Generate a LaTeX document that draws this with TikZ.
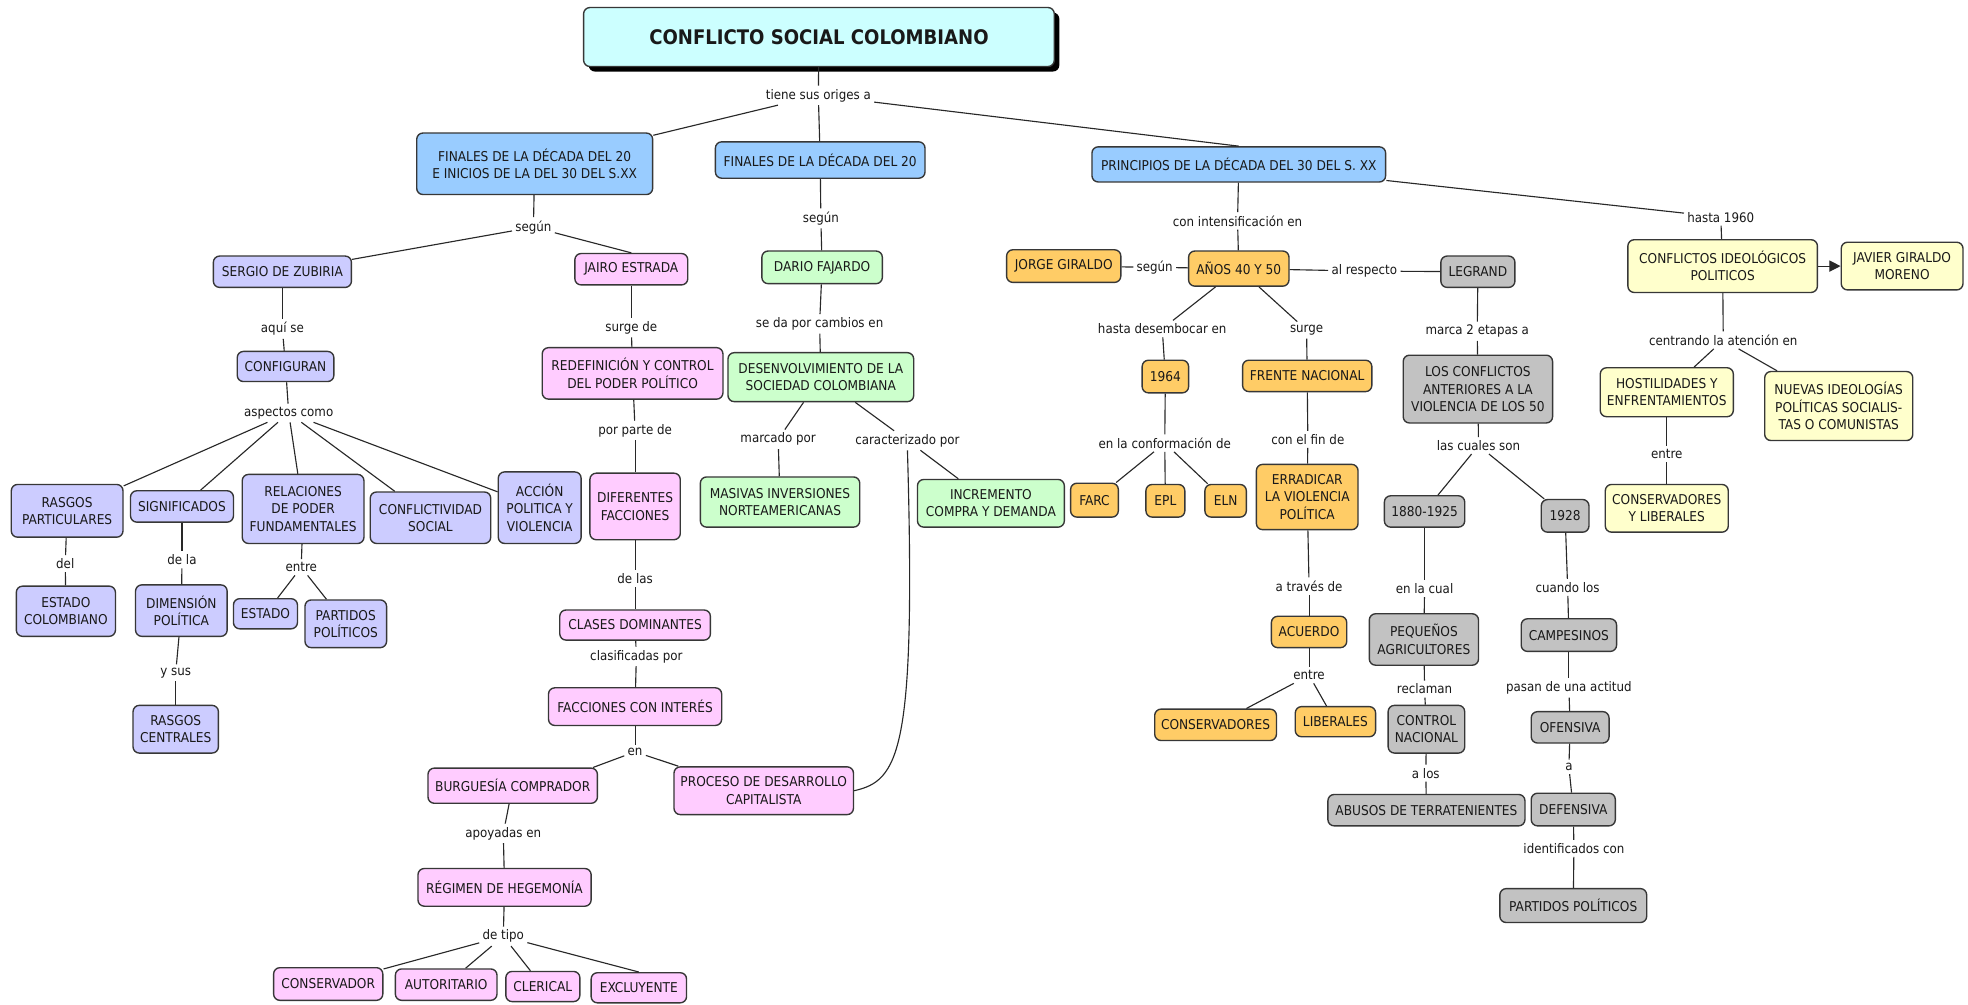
\documentclass[tikz,border=0pt]{standalone}
\usepackage{fontspec}
\setmainfont{DejaVu Sans Condensed}
\usetikzlibrary{arrows.meta,shadows}
\definecolor{cblue}{RGB}{153,204,255}
\definecolor{clav}{RGB}{204,204,255}
\definecolor{cpink}{RGB}{255,204,255}
\definecolor{cgreen}{RGB}{204,255,204}
\definecolor{corange}{RGB}{255,204,102}
\definecolor{cgray}{RGB}{194,194,194}
\definecolor{cyel}{RGB}{255,255,204}
\definecolor{ccyan}{RGB}{204,255,255}
\definecolor{cborder}{RGB}{55,55,55}
\definecolor{cline}{RGB}{40,40,40}
\definecolor{ctext}{RGB}{25,25,25}
\newcommand\cbox[7]{\node[box,fill=#2,minimum width={#5-#3},minimum height={#6-#4}] (#1) at ({(#3+#5)/2},{(#4+#6)/2}) {#7};}
\newcommand\clab[4]{\node[lbl] (#1) at (#2,#3) {#4};}
\begin{document}
\begin{tikzpicture}[x=1pt,y=-1pt,
  box/.style={draw=cborder,line width=1.1pt,rounded corners=5pt,align=center,inner sep=2pt,text=ctext,font=\fontsize{10.8}{13.8}\selectfont},
  lbl/.style={inner sep=2.5pt,text=ctext,font=\fontsize{10.5}{12}\selectfont},
  con/.style={draw=cline,line width=0.9pt}]
\useasboundingbox (0,0) rectangle (1568,800);
\fill[white] (0,0) rectangle (1568,800);
% title
\node[draw=cborder,line width=1.1pt,rounded corners=5pt,fill=ccyan,minimum width=375,minimum height=47,
  font=\fontsize{16}{19}\selectfont\bfseries,text=ctext,
  drop shadow={shadow xshift=4pt,shadow yshift=-4pt,fill=black,opacity=1}] (title) at (652.5,29.5) {CONFLICTO SOCIAL COLOMBIANO};
% level 1
\cbox{a1}{cblue}{332}{106}{520}{155}{FINALES DE LA DÉCADA DEL 20\\E INICIOS DE LA DEL 30 DEL S.XX}
\cbox{a2}{cblue}{570}{113}{737}{142}{FINALES DE LA DÉCADA DEL 20}
\cbox{a3}{cblue}{870}{117}{1104}{145}{PRINCIPIOS DE LA DÉCADA DEL 30 DEL S. XX}
% lavender
\cbox{sergio}{clav}{170}{204}{280}{229}{SERGIO DE ZUBIRIA}
\cbox{config}{clav}{189}{280}{266}{304}{CONFIGURAN}
\cbox{rasgos}{clav}{9}{386}{98}{428}{RASGOS\\PARTICULARES}
\cbox{signif}{clav}{104}{391}{186}{416}{SIGNIFICADOS}
\cbox{relac}{clav}{193}{378}{290}{433}{RELACIONES\\DE PODER\\FUNDAMENTALES}
\cbox{conflic}{clav}{295}{392}{391}{433}{CONFLICTIVIDAD\\SOCIAL}
\cbox{accion}{clav}{397}{376}{463}{433}{ACCIÓN\\POLITICA Y\\VIOLENCIA}
\cbox{estcol}{clav}{13}{467}{92}{507}{ESTADO\\COLOMBIANO}
\cbox{dimen}{clav}{108}{466}{181}{507}{DIMENSIÓN\\POLÍTICA}
\cbox{rascen}{clav}{106}{562}{174}{600}{RASGOS\\CENTRALES}
\cbox{estado}{clav}{186}{477}{237}{501}{ESTADO}
\cbox{partidos}{clav}{243}{478}{308}{516}{PARTIDOS\\POLÍTICOS}
% pink
\cbox{jairo}{cpink}{458}{202}{548}{227}{JAIRO ESTRADA}
\cbox{redef}{cpink}{432}{277}{576}{318}{REDEFINICIÓN Y CONTROL\\DEL PODER POLÍTICO}
\cbox{difer}{cpink}{470}{377}{542}{430}{DIFERENTES\\FACCIONES}
\cbox{clases}{cpink}{446}{486}{566}{510}{CLASES DOMINANTES}
\cbox{facc}{cpink}{437}{548}{575}{578}{FACCIONES CON INTERÉS}
\cbox{burg}{cpink}{341}{612}{476}{640}{BURGUESÍA COMPRADOR}
\cbox{proceso}{cpink}{537}{611}{680}{649}{PROCESO DE DESARROLLO\\CAPITALISTA}
\cbox{regimen}{cpink}{333}{692}{471}{722}{RÉGIMEN DE HEGEMONÍA}
\cbox{conserv}{cpink}{218}{771}{305}{797}{CONSERVADOR}
\cbox{autor}{cpink}{315}{772}{396}{797}{AUTORITARIO}
\cbox{cleric}{cpink}{403}{774}{462}{798}{CLERICAL}
\cbox{exclu}{cpink}{471}{775}{547}{799}{EXCLUYENTE}
% green
\cbox{dario}{cgreen}{607}{200}{703}{226}{DARIO FAJARDO}
\cbox{desenv}{cgreen}{580}{281}{728}{320}{DESENVOLVIMIENTO DE LA\\SOCIEDAD COLOMBIANA}
\cbox{masivas}{cgreen}{558}{380}{685}{420}{MASIVAS INVERSIONES\\NORTEAMERICANAS}
\cbox{increm}{cgreen}{731}{382}{848}{420}{INCREMENTO\\COMPRA Y DEMANDA}
% orange
\cbox{jorge}{corange}{802}{199}{893}{225}{JORGE GIRALDO}
\cbox{anos}{corange}{947}{200}{1027}{228}{AÑOS 40 Y 50}
\cbox{n1964}{corange}{910}{287}{947}{313}{1964}
\cbox{farc}{corange}{853}{385}{891}{412}{FARC}
\cbox{epl}{corange}{913}{386}{944}{412}{EPL}
\cbox{eln}{corange}{960}{386}{993}{412}{ELN}
\cbox{frente}{corange}{990}{287}{1093}{312}{FRENTE NACIONAL}
\cbox{errad}{corange}{1001}{370}{1082}{422}{ERRADICAR\\LA VIOLENCIA\\POLÍTICA}
\cbox{acuerdo}{corange}{1013}{491}{1073}{516}{ACUERDO}
\cbox{conse}{corange}{920}{565}{1017}{590}{CONSERVADORES}
\cbox{liber}{corange}{1032}{563}{1096}{587}{LIBERALES}
% gray
\cbox{legrand}{cgray}{1148}{204}{1207}{229}{LEGRAND}
\cbox{losconf}{cgray}{1118}{283}{1237}{337}{LOS CONFLICTOS\\ANTERIORES A LA\\VIOLENCIA DE LOS 50}
\cbox{n1880}{cgray}{1103}{395}{1167}{420}{1880-1925}
\cbox{n1928}{cgray}{1228}{398}{1266}{424}{1928}
\cbox{peq}{cgray}{1091}{489}{1178}{530}{PEQUEÑOS\\AGRICULTORES}
\cbox{control}{cgray}{1106}{562}{1167}{600}{CONTROL\\NACIONAL}
\cbox{abusos}{cgray}{1058}{633}{1215}{658}{ABUSOS DE TERRATENIENTES}
\cbox{campes}{cgray}{1212}{493}{1288}{519}{CAMPESINOS}
\cbox{ofens}{cgray}{1220}{567}{1282}{592}{OFENSIVA}
\cbox{defens}{cgray}{1220}{632}{1287}{658}{DEFENSIVA}
\cbox{partpol}{cgray}{1195}{708}{1312}{735}{PARTIDOS POLÍTICOS}
% yellow
\cbox{conflid}{cyel}{1297}{191}{1448}{233}{CONFLICTOS IDEOLÓGICOS\\POLITICOS}
\cbox{javier}{cyel}{1467}{193}{1564}{231}{JAVIER GIRALDO\\MORENO}
\cbox{hostil}{cyel}{1275}{293}{1381}{332}{HOSTILIDADES Y\\ENFRENTAMIENTOS}
\cbox{nuevas}{cyel}{1406}{296}{1524}{351}{NUEVAS IDEOLOGÍAS\\POLÍTICAS SOCIALIS-\\TAS O COMUNISTAS}
\cbox{consylib}{cyel}{1279}{386}{1377}{424}{CONSERVADORES\\Y LIBERALES}
% labels
\clab{l0}{652}{76}{tiene sus origes a}
\clab{l1}{425}{181}{según}
\clab{l2}{654}{174}{según}
\clab{l3}{986}{176}{con intensificación en}
\clab{l4}{1371}{173}{hasta 1960}
\clab{l5}{225}{262}{aquí se}
\clab{l6}{230}{329}{aspectos como}
\clab{l7}{52}{449}{del}
\clab{l8}{145}{446}{de la}
\clab{l9}{140}{536}{y sus}
\clab{l10}{240}{452}{entre}
\clab{l11}{503}{261}{surge de}
\clab{l12}{506}{343}{por parte de}
\clab{l13}{506}{461}{de las}
\clab{l14}{507}{523}{clasificadas por}
\clab{l15}{506}{599}{en}
\clab{l16}{401}{664}{apoyadas en}
\clab{l17}{401}{746}{de tipo}
\clab{l18}{653}{258}{se da por cambios en}
\clab{l19}{620}{350}{marcado por}
\clab{l20}{723}{351}{caracterizado por}
\clab{l21}{920}{213}{según}
\clab{l22}{1087}{216}{al respecto}
\clab{l23}{926}{262}{hasta desembocar en}
\clab{l24}{928}{353}{en la conformación de}
\clab{l25}{1041}{263}{surge}
\clab{l26}{1042}{350}{con el fin de}
\clab{l27}{1043}{467}{a través de}
\clab{l28}{1043}{538}{entre}
\clab{l29}{1177}{264}{marca 2 etapas a}
\clab{l30}{1178}{355}{las cuales son}
\clab{l31}{1135}{469}{en la cual}
\clab{l32}{1135}{549}{reclaman}
\clab{l33}{1136}{616}{a los}
\clab{l34}{1249}{468}{cuando los}
\clab{l35}{1250}{548}{pasan de una actitud}
\clab{l36}{1250}{611}{a}
\clab{l37}{1254}{676}{identificados con}
\clab{l38}{1373}{271}{centrando la atención en}
\clab{l39}{1328}{362}{entre}
% connectors
\draw[con] (title) -- (l0);
\draw[con] (l0) -- (a1);
\draw[con] (l0) -- (a2);
\draw[con] (l0) -- (a3.north);
\draw[con] (a1) -- (l1);
\draw[con] (l1) -- (sergio);
\draw[con] (l1) -- (jairo.north);
\draw[con] (sergio) -- (l5);
\draw[con] (l5) -- (config);
\draw[con] (config) -- (l6);
\draw[con] (l6) -- (rasgos);
\draw[con] (l6) -- (signif);
\draw[con] (l6) -- (relac);
\draw[con] (l6) -- (conflic);
\draw[con] (l6) -- (accion);
\draw[con] (rasgos) -- (l7);
\draw[con] (l7) -- (estcol);
\draw[con] (signif) -- (l8);
\draw[con] (l8) -- (dimen);
\draw[con] (dimen) -- (l9);
\draw[con] (l9) -- (rascen);
\draw[con] (relac) -- (l10);
\draw[con] (l10) -- (estado);
\draw[con] (l10) -- (partidos);
\draw[con] (jairo) -- (l11);
\draw[con] (l11) -- (redef);
\draw[con] (redef) -- (l12);
\draw[con] (l12) -- (difer);
\draw[con] (difer) -- (l13);
\draw[con] (l13) -- (clases);
\draw[con] (clases) -- (l14);
\draw[con] (l14) -- (facc);
\draw[con] (facc) -- (l15);
\draw[con] (l15) -- ([xshift=-4pt]burg.north east);
\draw[con] (l15) -- ([xshift=4pt]proceso.north west);
\draw[con] (burg) -- (l16);
\draw[con] (l16) -- (regimen);
\draw[con] (regimen) -- (l17);
\draw[con] (l17) -- (conserv);
\draw[con] (l17) -- (autor);
\draw[con] (l17) -- (cleric);
\draw[con] (l17) -- (exclu.north);
\draw[con] (a2) -- (l2);
\draw[con] (l2) -- (dario);
\draw[con] (dario) -- (l18);
\draw[con] (l18) -- (desenv);
\draw[con] (desenv) -- (l19);
\draw[con] (l19) -- (masivas);
\draw[con] (desenv) -- (l20);
\draw[con] (l20) -- (increm);
\draw[con] (l20.south) .. controls (730,600) and (716,622) .. (proceso.east);
\draw[con] (a3) -- (l3);
\draw[con] (l3) -- (anos);
\draw[con] (jorge) -- (l21);
\draw[con] (l21) -- (anos);
\draw[con] (anos) -- (l22);
\draw[con] (l22) -- (legrand);
\draw[con] (anos) -- (l23);
\draw[con] (l23) -- (n1964);
\draw[con] (n1964) -- (l24);
\draw[con] (l24) -- (farc);
\draw[con] (l24) -- (epl);
\draw[con] (l24) -- (eln);
\draw[con] (anos) -- (l25);
\draw[con] (l25) -- (frente);
\draw[con] (frente) -- (l26);
\draw[con] (l26) -- (errad);
\draw[con] (errad) -- (l27);
\draw[con] (l27) -- (acuerdo);
\draw[con] (acuerdo) -- (l28);
\draw[con] (l28) -- (conse);
\draw[con] (l28) -- (liber);
\draw[con] (legrand) -- (l29);
\draw[con] (l29) -- (losconf);
\draw[con] (losconf) -- (l30);
\draw[con] (l30) -- (n1880);
\draw[con] (l30) -- (n1928);
\draw[con] (n1880) -- (l31);
\draw[con] (l31) -- (peq);
\draw[con] (peq) -- (l32);
\draw[con] (l32) -- (control);
\draw[con] (control) -- (l33);
\draw[con] (l33) -- (abusos);
\draw[con] (n1928) -- (l34);
\draw[con] (l34) -- (campes);
\draw[con] (campes) -- (l35);
\draw[con] (l35) -- (ofens);
\draw[con] (ofens) -- (l36);
\draw[con] (l36) -- (defens);
\draw[con] (defens) -- (l37);
\draw[con] (l37) -- (partpol);
\draw[con] (a3) -- (l4);
\draw[con] (l4) -- (conflid);
\draw[con,-{Triangle[length=9pt,width=9pt]}] (conflid) -- (javier);
\draw[con] (conflid) -- (l38);
\draw[con] (l38) -- (hostil);
\draw[con] (l38) -- (nuevas);
\draw[con] (hostil) -- (l39);
\draw[con] (l39) -- (consylib);
\end{tikzpicture}
\end{document}
